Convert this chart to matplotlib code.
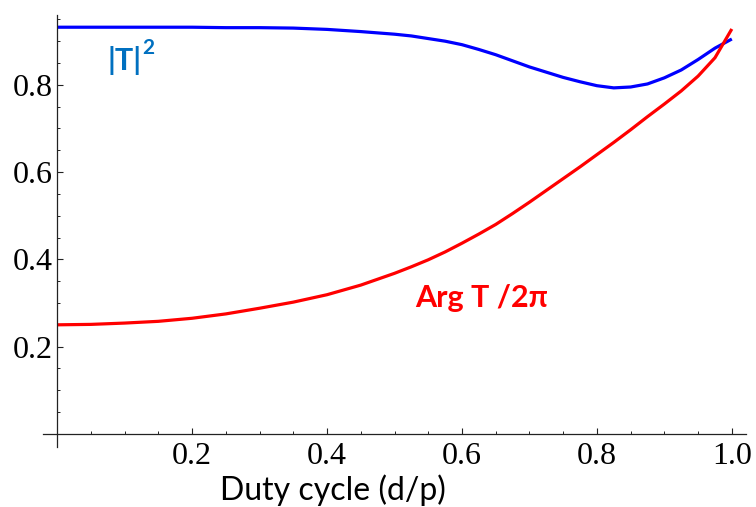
import matplotlib
matplotlib.use("Agg")
import matplotlib.pyplot as plt
from matplotlib.ticker import MultipleLocator

# duty cycle values
duty = [0.0, 0.05, 0.10, 0.15, 0.20, 0.25, 0.30, 0.35, 0.40, 0.45, 0.50,
        0.525, 0.55, 0.575, 0.60, 0.625, 0.65, 0.675, 0.70, 0.725, 0.75,
        0.775, 0.80, 0.825, 0.85, 0.875, 0.90, 0.925, 0.95, 0.975, 1.00]

# |T|^2
trans = [0.932, 0.932, 0.932, 0.932, 0.932, 0.931, 0.931, 0.930, 0.927, 0.922, 0.916,
         0.912, 0.906, 0.900, 0.892, 0.881, 0.869, 0.855, 0.841, 0.829, 0.817,
         0.807, 0.798, 0.793, 0.795, 0.802, 0.816, 0.834, 0.858, 0.884, 0.905]

# Arg T / 2pi
phase = [0.250, 0.251, 0.254, 0.258, 0.265, 0.275, 0.288, 0.302, 0.319, 0.341, 0.368,
         0.383, 0.399, 0.417, 0.437, 0.458, 0.480, 0.505, 0.531, 0.558, 0.585,
         0.612, 0.640, 0.668, 0.697, 0.727, 0.756, 0.786, 0.820, 0.862, 0.928]

W, H = 756, 507
fig = plt.figure(figsize=(W / 100, H / 100), dpi=100)
ax = fig.add_axes([43 / W, (H - 447) / H, 703 / W, 432 / H])

ax.plot(duty, trans, color="#0000ff", lw=2.3, solid_capstyle="butt")
ax.plot(duty, phase, color="#ff0000", lw=2.3, solid_capstyle="butt")

ax.set_xlim(-0.021, 1.021)
ax.set_ylim(-0.03, 0.96)

for side in ("top", "right"):
    ax.spines[side].set_visible(False)
for side in ("left", "bottom"):
    ax.spines[side].set_position(("data", 0))
    ax.spines[side].set_linewidth(0.9)
    ax.spines[side].set_color("#222222")

ax.xaxis.set_minor_locator(MultipleLocator(0.05))
ax.yaxis.set_minor_locator(MultipleLocator(0.05))
ax.set_xticks([0.2, 0.4, 0.6, 0.8, 1.0])
ax.set_xticklabels(["0.2", "0.4", "0.6", "0.8", "1.0"])
ax.set_yticks([0.2, 0.4, 0.6, 0.8])
ax.set_yticklabels(["0.2", "0.4", "0.6", "0.8"])

ax.tick_params(which="major", direction="in", length=4.3, width=0.8, color="#222222",
               labelsize=23, labelfontfamily="Liberation Serif")
ax.tick_params(which="minor", direction="in", length=2.3, width=0.7, color="#222222")
ax.tick_params(axis="x", which="major", pad=6)
ax.tick_params(axis="y", which="major", pad=3)

# |T|^2 label: base text, then a raised "2" just after it
t_lbl = ax.text(0.075, 0.855, "|T|", color="#0070c0", fontsize=22,
                fontweight="bold", family="Lato", va="center", ha="left")
fig.canvas.draw()
bb = t_lbl.get_window_extent()
x_end = ax.transData.inverted().transform((bb.x1, bb.y0))[0]
ax.annotate("2", (x_end, 0.855), xytext=(0, 9), textcoords="offset points",
            color="#0070c0", fontsize=15, fontweight="bold", family="Lato",
            va="center", ha="left")

ax.text(0.53, 0.312, "Arg T /2π", color="#ff0000", fontsize=22,
        fontweight="bold", family="Lato", va="center", ha="left")

fig.text(333 / W, 1 - 490 / H, "Duty cycle (d/p)", fontsize=23, family="Lato",
         ha="center", va="center", color="black")

fig.savefig("out.png", dpi=100)
